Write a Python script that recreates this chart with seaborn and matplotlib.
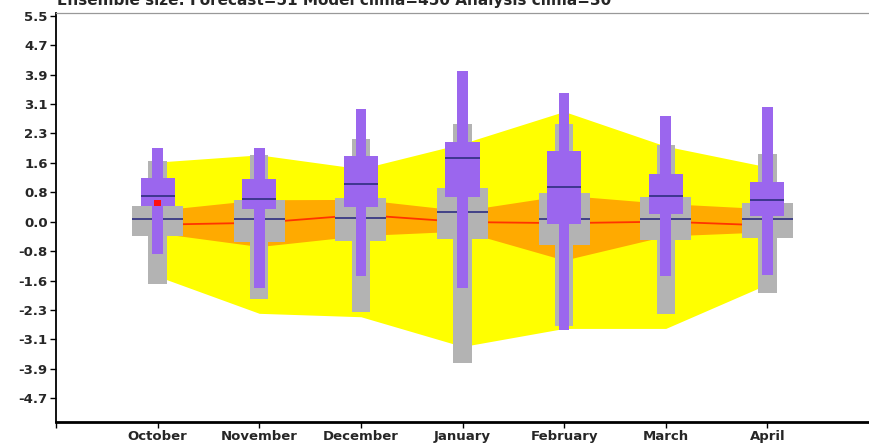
import numpy as np
import matplotlib
matplotlib.use("Agg")
import matplotlib.pyplot as plt
import seaborn as sns

# Months shown along the x axis
months = ["October", "November", "December", "January", "February", "March", "April"]

# Model climate: outer envelope (yellow), inner range (orange) and median (red line)
clim_lo = [-1.45, -2.43, -2.52, -3.31, -2.83, -2.83, -1.66]
clim_hi = [1.58, 1.77, 1.40, 2.07, 2.92, 2.00, 1.45]
clim_q1 = [-0.30, -0.66, -0.37, -0.25, -1.02, -0.38, -0.27]
clim_q3 = [0.30, 0.58, 0.59, 0.29, 0.70, 0.48, 0.34]
clim_med = [-0.08, -0.03, 0.18, -0.01, -0.04, 0.00, -0.10]

# Analysis climate box plots (grey)
ana_min = [-1.66, -2.06, -2.39, -3.74, -2.77, -2.46, -1.88]
ana_q1 = [-0.37, -0.53, -0.51, -0.47, -0.62, -0.49, -0.44]
ana_med = [0.07, 0.07, 0.11, 0.25, 0.07, 0.08, 0.06]
ana_q3 = [0.42, 0.58, 0.64, 0.90, 0.75, 0.65, 0.49]
ana_max = [1.62, 1.77, 2.19, 2.59, 2.59, 2.02, 1.80]

# Forecast box plots (purple)
fc_min = [-0.86, -1.75, -1.43, -1.77, -2.87, -1.44, -1.41]
fc_q1 = [0.42, 0.34, 0.40, 0.65, -0.07, 0.20, 0.16]
fc_med = [0.69, 0.60, 1.00, 1.70, 0.93, 0.67, 0.58]
fc_q3 = [1.17, 1.13, 1.75, 2.12, 1.88, 1.27, 1.05]
fc_max = [1.95, 1.95, 2.99, 3.98, 3.41, 2.79, 3.03]

# Observed value (only available for the first month)
obs_month = ["October"]
obs_value = [0.49]

ytick_labels = ["-4.7", "-3.9", "-3.1", "-2.3", "-1.6", "-0.8", "0.0",
                "0.8", "1.6", "2.3", "3.1", "3.9", "4.7", "5.5"]
ytick_step = 0.78

title = "Ensemble size: Forecast=51 Model clima=450 Analysis clima=30"

sns.set_theme(style="white")
plt.rcParams["font.family"] = ["DejaVu Sans"]

fig = plt.figure(figsize=(8.69, 4.45), dpi=100)
ax = fig.add_axes([56 / 869, 23 / 445, 1 - 56 / 869, (422 - 13) / 445])

pos = np.arange(1, len(months) + 1)

YELLOW = "#ffff00"
ORANGE = "#ffaa00"
RED = "#ff3300"
GREY = "#b3b3b3"
PURPLE = "#9b66ee"
NAVY = "#2e2e80"

ax.fill_between(pos, clim_lo, clim_hi, color=YELLOW, lw=0, zorder=1)
ax.fill_between(pos, clim_q1, clim_q3, color=ORANGE, lw=0, zorder=2)
sns.lineplot(x=pos, y=clim_med, color=RED, lw=1.3, ax=ax, zorder=3)

a_min, a_q1, a_med, a_q3, a_max = map(np.asarray, (ana_min, ana_q1, ana_med, ana_q3, ana_max))
f_min, f_q1, f_med, f_q3, f_max = map(np.asarray, (fc_min, fc_q1, fc_med, fc_q3, fc_max))

# grey analysis-climate boxes
ax.bar(pos, a_max - a_min, bottom=a_min, width=0.18, color=GREY, lw=0, zorder=4)
ax.bar(pos, a_q3 - a_q1, bottom=a_q1, width=0.50, color=GREY, lw=0, zorder=4)
ax.hlines(a_med, pos - 0.25, pos + 0.25, color=NAVY, lw=1.2, zorder=5)

# purple forecast boxes
ax.bar(pos, f_max - f_min, bottom=f_min, width=0.105, color=PURPLE, lw=0, zorder=6)
ax.bar(pos, f_q3 - f_q1, bottom=f_q1, width=0.335, color=PURPLE, lw=0, zorder=6)
ax.hlines(f_med, pos - 0.1675, pos + 0.1675, color=NAVY, lw=1.2, zorder=7)

obs_pos = [months.index(m) + 1 for m in obs_month]
sns.scatterplot(x=obs_pos, y=obs_value, marker="s", s=22, color="#ff1010",
                edgecolor="none", ax=ax, zorder=8)

ax.set_xlim(0, 8)
ax.set_ylim(-5.31, 5.53)

ax.set_xticks(np.arange(0, len(months) + 1))
ax.set_xticklabels([""] + months, fontsize=9.5, fontweight="bold")
n0 = -(len(ytick_labels) // 2)
ax.set_yticks([ytick_step * (n0 + 1 + i) for i in range(len(ytick_labels))])
ax.set_yticklabels(ytick_labels, fontsize=9.5, fontweight="bold")
ax.tick_params(axis="both", which="both", direction="out", length=4, width=1,
               color="black", pad=2, left=True, bottom=True)

ax.spines["right"].set_visible(False)
ax.spines["top"].set_color("#999999")
ax.spines["top"].set_linewidth(0.9)
ax.spines["left"].set_color("black")
ax.spines["left"].set_linewidth(1.3)
ax.spines["bottom"].set_color("black")
ax.spines["bottom"].set_linewidth(2.0)

# run header sits at the very top edge of the canvas
fig.text(57 / 869, 1 - 5.5 / 445, title, fontsize=11, fontweight="bold",
         ha="left", va="baseline")

fig.savefig("out.png", dpi=100)
